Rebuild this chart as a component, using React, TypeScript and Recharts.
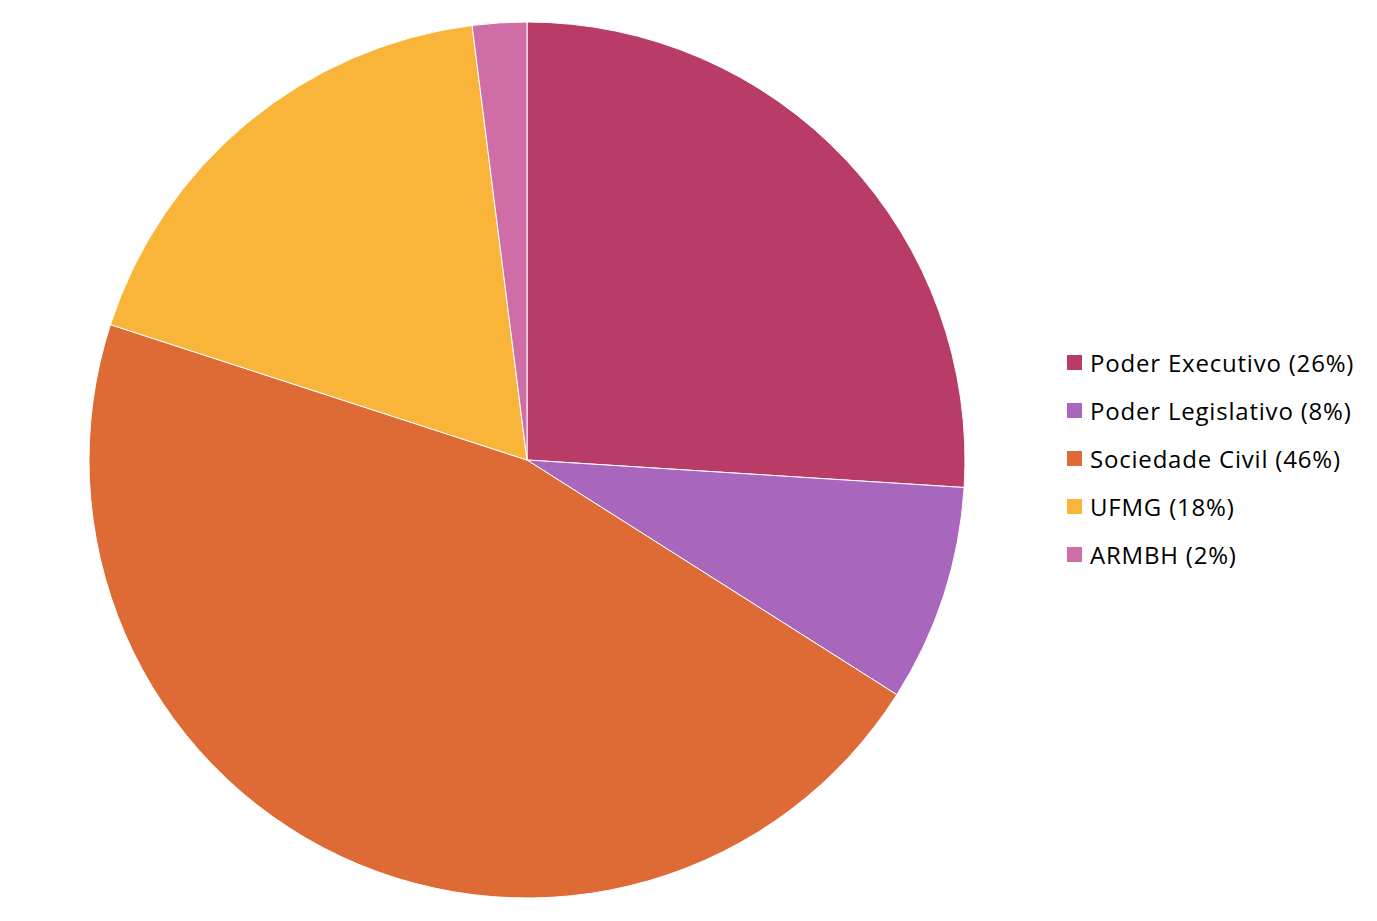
import React from 'react';
import { PieChart, Pie, Cell, Legend } from 'recharts';

const categories = ['Poder Executivo', 'Poder Legislativo', 'Sociedade Civil', 'UFMG', 'ARMBH'];
const shares = [26, 8, 46, 18, 2];
const colors = ['#B83C67', '#A966BD', '#DE6B35', '#F9B43A', '#CF6DA6'];

const data = categories.map((name, i) => ({ name, value: shares[i] }));

const renderLegend = () => (
  <div style={{ fontFamily: '"Open Sans", sans-serif', fontSize: 24, letterSpacing: 0.8, color: '#000' }}>
    {data.map((d, i) => (
      <div key={d.name} style={{ display: 'flex', alignItems: 'center', height: 48 }}>
        <span style={{ width: 15, height: 15, background: colors[i], marginRight: 8, display: 'inline-block' }} />
        <span>{`${d.name} (${d.value}%)`}</span>
      </div>
    ))}
  </div>
);

const App = () => {
  return (
    <div style={{ position: 'absolute', left: 0, top: 0, background: '#fff' }}>
      <PieChart width={1377} height={921} margin={{ top: 0, right: 0, bottom: 0, left: 0 }}>
        <Pie
          data={data}
          dataKey="value"
          nameKey="name"
          cx={527}
          cy={460}
          outerRadius={438}
          startAngle={90}
          endAngle={-270}
          stroke="#ffffff"
          strokeWidth={1}
          isAnimationActive={false}
        >
          {data.map((d, i) => (
            <Cell key={d.name} fill={colors[i]} />
          ))}
        </Pie>
        <Legend
          content={renderLegend}
          wrapperStyle={{ left: 1067, top: 338, width: 310 }}
          layout="vertical"
        />
      </PieChart>
    </div>
  );
};

export default App;
